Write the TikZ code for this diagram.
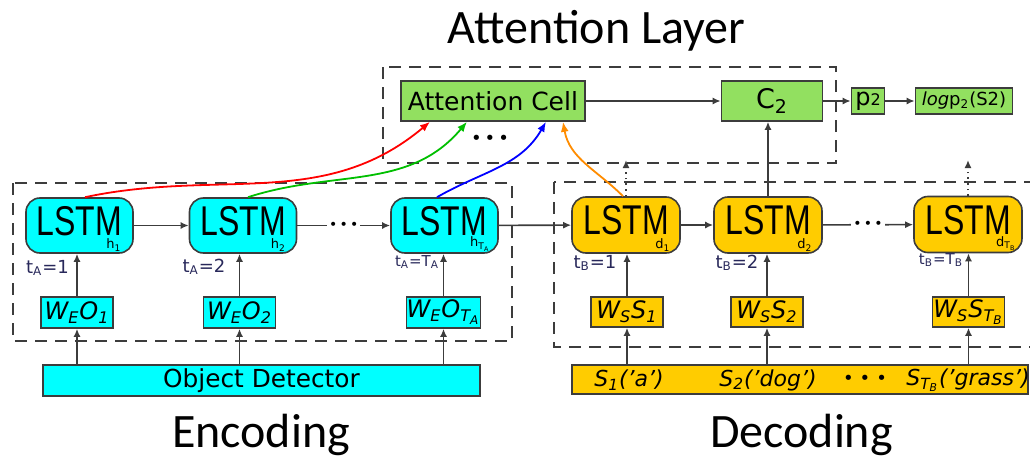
\documentclass[tikz,border=0pt]{standalone}
\usepackage{fontspec}
\setmainfont{DejaVu Sans}
\newfontfamily\titlefont{Carlito}
\newfontfamily\lstmfont{Liberation Sans}
\usetikzlibrary{arrows.meta}
\definecolor{cy}{RGB}{0, 255, 255}
\definecolor{go}{RGB}{255, 204, 0}
\definecolor{gr}{RGB}{146, 224, 96}
\definecolor{dg}{RGB}{60, 60, 60}
\definecolor{tl}{RGB}{40, 40, 90}
\newcommand{\tallLSTM}{\raisebox{2.75pt}[15pt][0pt]{\scalebox{1}[1.3]{LSTM}}}
\tikzset{
  lstm/.style={rounded corners=7pt, minimum width=53.5pt, minimum height=27.5pt, draw=dg, line width=0.8pt, inner sep=0pt, font=\lstmfont\fontsize{16}{16}\selectfont},
  wbox/.style={draw=dg, line width=0.8pt, minimum width=36pt, minimum height=15.5pt, inner sep=0pt, font=\fontsize{12}{12}\selectfont\itshape},
  cell/.style={draw=dg, fill=gr, line width=0.8pt, inner sep=0pt, minimum height=20pt},
  sublab/.style={inner sep=0pt, anchor=south east, font=\fontsize{6.5}{6.5}\selectfont},
  tlab/.style={inner sep=0pt, text=tl, font=\fontsize{9}{9}\selectfont},
  frame/.style={dash pattern=on 6pt off 4pt, draw=dg, line width=0.9pt},
  conn/.style={line width=0.8pt, draw=dg, -{Latex[length=4pt,width=3.5pt]}},
  attn/.style={line width=0.9pt, -{Latex[length=5pt,width=4pt]}},
  chaindots/.style={fill=white, inner sep=1pt, font=\fontsize{7}{7}\selectfont},
  titletext/.style={font=\titlefont\fontsize{24}{24}\selectfont}
}
\begin{document}
\begin{tikzpicture}
\useasboundingbox (0pt, 0pt) rectangle (515pt, -230.5pt);
% frames
\draw [frame] (191.5pt, -33.5pt) rectangle (418pt, -81.5pt);
\draw [frame] (6.5pt, -91.5pt) rectangle (256pt, -170.5pt);
\draw [frame] (277pt, -91pt) rectangle (525pt, -173.5pt);
% titles
\node (ttl) [titletext] at (298.25pt, -15.5pt) {Attention Layer};
\node (enc) [titletext] at (130.5pt, -217.5pt) {Encoding};
\node (dec) [titletext] at (400.75pt, -217.5pt) {Decoding};
% attention layer
\node (acell) [cell, minimum width=92pt, font=\fontsize{12.5}{12.5}\selectfont] at (246.5pt, -50.5pt) {Attention Cell};
\node (adots) [font=\fontsize{9}{9}\selectfont] at (245pt, -70pt) {\textbullet\,\textbullet\,\textbullet};
\node (c2) [cell, minimum width=50.5pt, font=\fontsize{13.5}{13.5}\selectfont] at (386pt, -50.5pt) {C\textsubscript{2}};
\node (p2) [cell, minimum width=16.5pt, minimum height=13pt, font=\fontsize{12}{12}\selectfont] at (434pt, -50.5pt) {p{\fontsize{8}{8}\selectfont 2}};
\node (lp) [cell, minimum width=48.5pt, minimum height=13pt, font=\fontsize{9}{9}\selectfont] at (482pt, -50.5pt) {\textit{log}p\textsubscript{2}(S2)};
% encoder
\node (h1) [lstm, fill=cy] at (39.75pt, -112.75pt) {\tallLSTM};
\node (h2) [lstm, fill=cy] at (121.5pt, -112.75pt) {\tallLSTM};
\node (hT) [lstm, fill=cy] at (222.25pt, -112.75pt) {\tallLSTM};
\node (h1s) [sublab] at ([xshift=-6pt, yshift=1pt]h1.south east) {h\textsubscript{1}};
\node (h2s) [sublab] at ([xshift=-5.5pt, yshift=1pt]h2.south east) {h\textsubscript{2}};
\node (hTs) [sublab] at ([xshift=-4pt, yshift=1pt]hT.south east) {h\textsubscript{T\textsubscript{A}}};
\node (ta1) [tlab] at (23.75pt, -134pt) {t\textsubscript{A}=1};
\node (ta2) [tlab] at (102pt, -133.5pt) {t\textsubscript{A}=2};
\node (taT) [tlab, font=\fontsize{7.5}{7.5}\selectfont] at (208.5pt, -131pt) {t\textsubscript{A}=T\textsubscript{A}};
\node (we1) [wbox, fill=cy] at (38.5pt, -156.25pt) {W\textsubscript{E}O\textsubscript{1}};
\node (we2) [wbox, fill=cy] at (119.75pt, -156.25pt) {W\textsubscript{E}O\textsubscript{2}};
\node (weT) [wbox, fill=cy] at (221.75pt, -156.25pt) {W\textsubscript{E}O\textsubscript{T\textsubscript{A}}};
\node (od) [draw=dg, fill=cy, line width=0.8pt, minimum width=218.5pt, minimum height=15.5pt, inner sep=0pt, font=\fontsize{12.4}{12.4}\selectfont] at (130.75pt, -190.25pt) {Object Detector};
% decoder
\node (d1) [lstm, fill=go, minimum width=54pt, minimum height=28pt] at (313pt, -112.5pt) {\tallLSTM};
\node (d2) [lstm, fill=go, minimum width=54pt, minimum height=28pt] at (384pt, -112.5pt) {\tallLSTM};
\node (dT) [lstm, fill=go, minimum width=54pt, minimum height=28pt] at (484pt, -112.25pt) {\tallLSTM};
\node (d1s) [sublab] at ([xshift=-5pt, yshift=1pt]d1.south east) {d\textsubscript{1}};
\node (d2s) [sublab] at ([xshift=-5pt, yshift=1pt]d2.south east) {d\textsubscript{2}};
\node (dTs) [sublab] at ([xshift=-3pt, yshift=1pt]dT.south east) {d\textsubscript{T\textsubscript{B}}};
\node (tb1) [tlab] at (297.5pt, -131.5pt) {t\textsubscript{B}=1};
\node (tb2) [tlab] at (368.5pt, -131.5pt) {t\textsubscript{B}=2};
\node (tbT) [tlab, font=\fontsize{7.5}{7.5}\selectfont] at (470.5pt, -130pt) {t\textsubscript{B}=T\textsubscript{B}};
\node (ws1) [wbox, fill=go, minimum height=15pt] at (313.5pt, -156pt) {W\textsubscript{S}S\textsubscript{1}};
\node (ws2) [wbox, fill=go, minimum height=15pt] at (383.5pt, -156pt) {W\textsubscript{S}S\textsubscript{2}};
\node (wsT) [wbox, fill=go, minimum height=15pt] at (484.25pt, -156pt) {W\textsubscript{S}S\textsubscript{T\textsubscript{B}}};
\node (sbar) [draw=dg, fill=go, line width=0.8pt, minimum width=228pt, minimum height=14.5pt, inner sep=0pt] at (400pt, -189.75pt) {};
\node (s1) [font=\fontsize{11}{11}\selectfont\itshape, inner sep=0pt] at (314.5pt, -190pt) {S\textsubscript{1}('a')};
\node (s2) [font=\fontsize{11}{11}\selectfont\itshape, inner sep=0pt] at (384pt, -190pt) {S\textsubscript{2}('dog')};
\node (sdots) [font=\fontsize{9}{9}\selectfont, inner sep=0pt] at (432.5pt, -190pt) {\textbullet\,\,\textbullet\,\,\textbullet};
\node (sT) [font=\fontsize{11}{11}\selectfont\itshape, inner sep=0pt] at (484pt, -190pt) {S\textsubscript{T\textsubscript{B}}('grass')};
% connectors
\draw [conn] (h1) -- (h2);
\draw [conn] (h2) -- node [chaindots] {\textbullet\,\textbullet\,\textbullet} (hT);
\draw [conn] (hT) -- (d1);
\draw [conn] (d1) -- (d2);
\draw [conn] (d2) -- node [chaindots] {\textbullet\,\textbullet\,\textbullet} (dT);
\foreach \w/\l in {we1/h1, we2/h2, weT/hT, ws1/d1, ws2/d2, wsT/dT} {
  \draw [conn] (\w) -- (\w |- \l.south);
}
\foreach \w in {we1, we2, weT} {
  \draw [conn] (\w |- od.north) -- (\w);
}
\foreach \w in {ws1, ws2, wsT} {
  \draw [conn] (\w |- sbar.north) -- (\w);
}
\coordinate (d1up) at (313pt, -80pt);
\coordinate (dTup) at (484pt, -80pt);
\draw [conn, dotted] (d1) -- (d1up);
\draw [conn, dotted] (dT) -- (dTup);
\draw [conn] (d2.north) -- (d2.north |- c2.south);
\draw [conn] (acell) -- (c2);
\draw [conn] (c2) -- (p2);
\draw [conn] (p2) -- (lp);
% attention inputs
\draw [attn, red] ([xshift=2.75pt]h1.north) to [out=12, in=-140] ([xshift=-31.5pt]acell.south);
\draw [attn, green!75!black] ([xshift=2.5pt]h2.north) to [out=18, in=-130] ([xshift=-13pt]acell.south);
\draw [attn, blue] ([xshift=-3.75pt]hT.north) to [out=30, in=-120] ([xshift=26.5pt]acell.south);
\draw [attn, orange!90!yellow] ([xshift=-1.5pt]d1.north) to [out=135, in=-80] ([xshift=35pt]acell.south);
\end{tikzpicture}
\end{document}
